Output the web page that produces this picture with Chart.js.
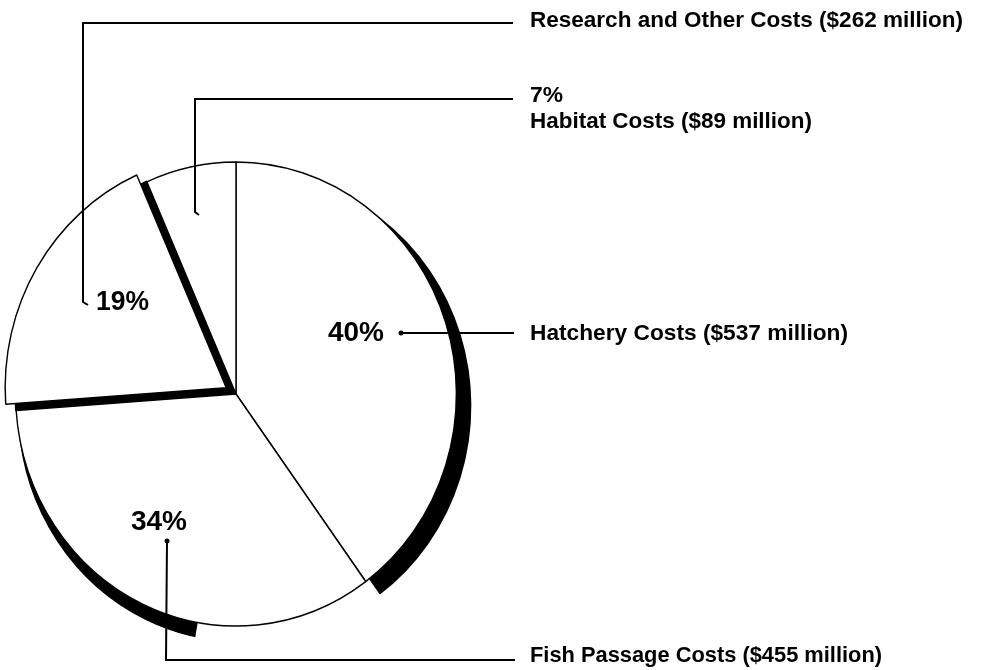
<!DOCTYPE html>
<html>
<head>
<meta charset="utf-8">
<script src="https://cdn.jsdelivr.net/npm/chart.js@4/dist/chart.umd.min.js"></script>
<style>
  body { margin: 0; background: #fff; }
  #grafico { display: block; }
</style>
</head>
<body>
<canvas id="grafico" width="986" height="670"></canvas>
<script>
// Dados do grafico
var categories = ['Hatchery Costs', 'Fish Passage Costs', 'Research and Other Costs', 'Habitat Costs'];
var costs = [537, 455, 262, 89];
var percents = ['40%', '34%', '19%', '7%'];

// Estilo de cada fatia: explosao (px do Chart.js) e sombra 3D [dx, dy, clipIni, clipFim]
var sliceOffsets = [0, 0, 48, 0];
var shadows = [
    [15, 12, null, null],
    [3, 15, 100, 178],
    [10.5, 6.2, null, null],
    null
];
var squeezeX = 0.95; // o original esta um pouco achatado na horizontal

// Sombra preta desenhada atras das fatias
var shadowPlugin = {
    id: 'shadow',
    beforeDatasetsDraw: function(chart) {
        var ctx = chart.ctx;
        var arcs = chart.getDatasetMeta(0).data;
        var cx = arcs[0].x;
        ctx.save();
        ctx.translate(cx, 0);
        ctx.scale(squeezeX, 1);
        ctx.translate(-cx, 0);
        arcs.forEach(function(arc, i) {
            var s = shadows[i];
            if (!s) return;
            var o = arc.options;
            var bg = o.backgroundColor, bc = o.borderColor;
            o.backgroundColor = '#000';
            o.borderColor = '#000';
            ctx.save();
            if (s[2] !== null) {
                ctx.beginPath();
                ctx.moveTo(arc.x, arc.y);
                ctx.arc(arc.x, arc.y, 400, s[2] * Math.PI / 180, s[3] * Math.PI / 180);
                ctx.closePath();
                ctx.clip();
            }
            ctx.translate(s[0], s[1]);
            arc.draw(ctx);
            ctx.restore();
            o.backgroundColor = bg;
            o.borderColor = bc;
        });
    },
    afterDatasetsDraw: function(chart) {
        chart.ctx.restore();
    }
};

var fitText = function(ctx, text, x, y, font, width) {
    ctx.font = font;
    var w = ctx.measureText(text).width;
    ctx.save();
    ctx.translate(x, y);
    ctx.scale(width / w, 1);
    ctx.fillText(text, 0, 0);
    ctx.restore();
};

var polyline = function(ctx, pts) {
    ctx.beginPath();
    ctx.moveTo(pts[0][0], pts[0][1]);
    for (var k = 1; k < pts.length; k++) ctx.lineTo(pts[k][0], pts[k][1]);
    ctx.stroke();
};

// Rotulos e linhas de chamada
var labelPlugin = {
    id: 'labels',
    afterDraw: function(chart) {
        var ctx = chart.ctx;
        var label = function(i) { return categories[i] + ' ($' + costs[i] + ' million)'; };
        var big = "bold 27px 'Liberation Sans', Arial, sans-serif";
        var mid = "bold 22px 'Liberation Sans', Arial, sans-serif";
        var txt = "bold 22px 'Liberation Sans', Arial, sans-serif";

        ctx.save();
        ctx.fillStyle = '#000';
        ctx.strokeStyle = '#000';
        ctx.lineWidth = 2;
        ctx.textBaseline = 'middle';
        ctx.textAlign = 'left';

        // Research and Other
        polyline(ctx, [[513, 23], [83, 23], [83, 302], [88, 305]]);
        fitText(ctx, label(2), 530, 21, txt, 433);
        fitText(ctx, percents[2], 96, 303, big, 53);

        // Habitat
        polyline(ctx, [[513, 99], [195, 99], [195, 212], [199, 215]]);
        fitText(ctx, percents[3], 530, 96, mid, 33);
        fitText(ctx, label(3), 530, 122, txt, 282);

        // Hatchery
        polyline(ctx, [[514, 333], [400, 333]]);
        ctx.beginPath();
        ctx.arc(401, 333, 2.5, 0, Math.PI * 2);
        ctx.fill();
        fitText(ctx, percents[0], 328, 334, big, 56);
        fitText(ctx, label(0), 530, 334, txt, 318);

        // Fish Passage
        polyline(ctx, [[167, 541], [166, 660], [515, 660]]);
        ctx.beginPath();
        ctx.arc(167, 541, 2.5, 0, Math.PI * 2);
        ctx.fill();
        fitText(ctx, percents[1], 131, 523, big, 56);
        fitText(ctx, label(1), 530, 656, txt, 352);

        ctx.restore();
    }
};

var createChart = function() {
    var context = document.getElementById('grafico').getContext('2d');
    var chart = new Chart(context, {
        type: 'pie',
        data: {
            labels: categories,
            datasets: [{
                data: costs,
                backgroundColor: '#ffffff',
                borderColor: '#000000',
                borderWidth: 1.5,
                offset: sliceOffsets
            }]
        },
        options: {
            responsive: false,
            animation: false,
            events: [],
            radius: 232,
            layout: {
                padding: { left: 0, top: 158, right: 514, bottom: 40 }
            },
            plugins: {
                legend: { display: false },
                tooltip: { enabled: false }
            }
        },
        plugins: [shadowPlugin, labelPlugin]
    });
    return(chart);
};

createChart();
</script>
</body>
</html>
